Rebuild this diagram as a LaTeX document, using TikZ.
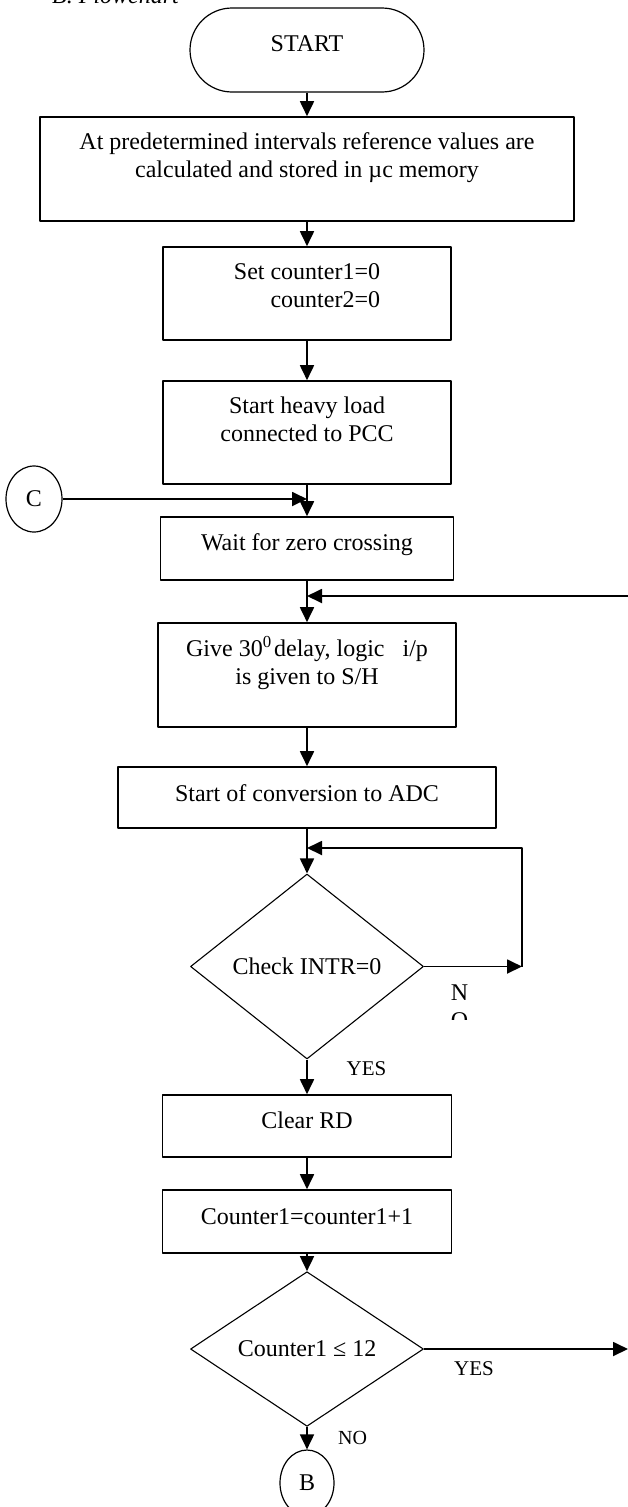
\documentclass[tikz,border=0pt]{standalone}
\usepackage{fontspec}
\setmainfont{Liberation Serif}
\usetikzlibrary{arrows.meta,shapes.geometric}
% text of a box, raised without changing its size
\newcommand{\lift}[3][c]{\raisebox{#2}[\height][\depth]{\begin{tabular}{@{}#1@{}}#3\end{tabular}}}
\begin{document}
\begin{tikzpicture}[x=1pt, y=-1pt, >={Triangle[length=15pt,width=14pt]}, line join=round,
		font=\fontsize{24}{28}\selectfont,
		box/.style={draw, line width=1.6pt, inner sep=0pt},
		dec/.style={draw, diamond, line width=1.1pt, inner sep=0pt, minimum width=233pt},
		con/.style={draw, ellipse, line width=1.2pt, inner sep=0pt, minimum height=66pt},
		lbl/.style={inner sep=0pt},
		arr/.style={->, line width=1.8pt}]
	\useasboundingbox (0,0) rectangle (628,1507);
	\node[lbl, anchor=base west, font=\fontsize{24}{28}\selectfont\itshape] (title) at (52,3) {B. Flowchart};
	% main column
	\node[box, line width=1.2pt, rounded corners=42pt, minimum width=234pt, minimum height=84pt] (start) at (307,50) {\lift{4pt}{START}};
	\node[box, minimum width=534pt, minimum height=104pt] (calc) at (307,169) {\lift{11.5pt}{At predetermined intervals reference values are\\calculated and stored in µc memory}};
	\node[box, minimum width=288pt, minimum height=93pt] (init) at (307,293.5) {\lift[r]{6pt}{Set counter1=0\\counter2=0}};
	\node[box, minimum width=288pt, minimum height=103pt] (load) at (307,432.5) {\lift{10.8pt}{Start heavy load\\connected to PCC}};
	\node[box, minimum width=293pt, minimum height=63pt] (wait) at (307,548.5) {\lift{4pt}{Wait for zero crossing}};
	\node[box, minimum width=298pt, minimum height=104pt] (delay) at (307,675) {\lift{10.5pt}{Give 30\textsuperscript{0}\hspace{2.5pt}delay, logic\ \ \ i/p\\is given to S/H}};
	\node[box, minimum width=378pt, minimum height=61pt] (soc) at (307,797.5) {\lift{1.5pt}{Start of conversion to ADC}};
	\node[dec, minimum height=185pt] (intr) at (307,966.5) {\raisebox{1.5pt}{Check INTR=0}};
	\node[box, minimum width=289pt, minimum height=62pt] (clrd) at (307,1126) {\lift{3.3pt}{Clear RD}};
	\node[box, minimum width=289pt, minimum height=63pt] (incr) at (307,1221.5) {\lift{3pt}{Counter1=counter1+1}};
	\node[dec, minimum height=140pt] (cmp) at (307,1349) {Counter1 ≤ 12};
	\node[con, minimum width=54pt] (conB) at (307,1483) {B};
	\node[con, minimum width=56pt] (conC) at (34,499) {C};
	% labels
	\node[lbl, font=\fontsize{21}{25}\selectfont] (yes1) at (366.5,1069) {YES};
	\node[lbl, font=\fontsize{21}{25}\selectfont] (yes2) at (474,1369) {YES};
	\node[lbl, font=\fontsize{20}{24}\selectfont] (no2) at (352.5,1438) {NO};
	\begin{scope}
		\clip (430,970) rectangle (500,1019);
		\node[lbl] (no1) at (459.5,1008.4) {\lift{0pt}{N\\O}};
	\end{scope}
	% connectors
	\foreach \a/\b in {start/calc, calc/init, init/load, load/wait, wait/delay, delay/soc, soc/intr, intr/clrd, clrd/incr, incr/cmp, cmp/conB}
		\draw[arr] (\a.south) -- (\b.north);
	\coordinate (joinC) at (load.south |- conC.east);
	\draw[arr] (conC.east) -- (joinC);
	\coordinate (backR) at (628,596);
	\coordinate (joinB) at (wait.south |- backR);
	\draw[arr] (backR) -- (joinB);
	\coordinate (loopR) at (522,966.5);
	\coordinate (loopT) at (522,848);
	\coordinate (joinL) at (soc.south |- loopT);
	\draw[arr] (intr.east) -- (loopR);
	\draw[arr] (loopR) -- (loopT) -- (joinL);
	\coordinate (yesR) at (628,1349);
	\draw[arr] (cmp.east) -- (yesR);
\end{tikzpicture}
\end{document}
